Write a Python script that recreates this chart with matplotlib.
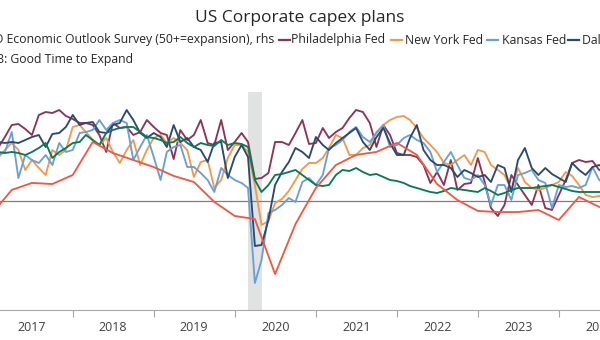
import numpy as np
import pandas as pd
import matplotlib
matplotlib.use('Agg')
import matplotlib.pyplot as plt
import matplotlib.dates as mdates
from matplotlib.lines import Line2D
from matplotlib.ticker import NullFormatter

plt.rcParams['font.family'] = ['Open Sans', 'DejaVu Sans']

# monthly capex-plans indexes, Jan 2017 onwards
philly = [27, 32, 38, 38.5, 36, 33, 43, 44.5, 44, 45.5,
          42.5, 41, 39, 39, 38, 33, 24.5, 39, 36.5, 37,
          33, 34.5, 40.5, 37, 34, 33, 21, 35.5, 30.5, 33,
          40.5, 29, 28, 40.5, 25.5, 29.5, 34, 29.5, 11, 11.5,
          14, 29.5, 29.5, 28, 34, 40.5, 28.5, 29, 36.5, 31.5,
          34.5, 36.5, 41.5, 45.5, 44.5, 39, 27, 38, 33, 24,
          23, 23, 22, 18, 9, 14.5, 8, 20.5, 5.5, 8.5,
          9, 21.5, 9.5, -3.5, -7.5, -2, 13, 8, 3, -2,
          8, -3.5, -4.5, 3, 10.5, 19, 20.5, 19.5, 20, 15.5,
          15]
new_york = [22, 25.5, 29, 25.5, 15.5, 20.5, 16.5, 13, 25.5, 23,
            25.5, 37, 38, 34.5, 30.5, 28, 31.5, 24.5, 19, 25.5,
            30.5, 18, 25.5, 31.5, 33, 29, 31.5, 29, 25.5, 12,
            19.5, 20.5, 6.5, 10.5, 21.5, 28, 28, 24.5, 8, -12,
            -10, -1, 1, 5, 10.5, 16, 19, 19, 21.5, 26.5,
            33, 31.5, 23, 23, 26.5, 28, 34.5, 38, 40.5, 42,
            42.5, 40.5, 36.5, 31.5, 28, 24.5, 19, 18, 20.5, 23,
            18, 25.5, 24.5, 18, 15.5, 13, 5.5, 16.5, 9.5, 6.5,
            5.5, 6.5, 8, 9.5, 14.5, 12.5, 8, 3, 2, 2.5,
            2.5]
kansas = [23, 24.5, 34.5, 11.5, 23, 20.5, 19, 23, 18, 29,
          24.5, 25.5, 34, 34.5, 35.5, 40.5, 35.5, 39, 40.5, 39,
          20.5, 27, 33, 22, 10.5, 24.5, 27, 28, 17, 17,
          14, 10.5, 4.5, 16.5, 13, 10.5, 9, 6.5, -41, -29.5,
          -6, -4.5, -2, 1.5, -0.5, 9.5, 11.5, 8, 13, 26.5,
          28, 30.5, 34.5, 37, 32, 29.5, 34, 38, 27, 28,
          31.5, 33, 30.5, 29, 24.5, 14.5, 19.5, 24.5, 18, 11.5,
          10.5, 13, 8, -2, 8, 8, 0.5, 13, 14, 15.5,
          10.5, 9, -3.5, 8, 7, 7.5, 6.5, 8, 17, 10.5,
          8]
dallas = [29.5, 29, 29.5, 29, 30.5, 32, 33, 27, 33.5, 34,
          37, 43, 38, 39, 39.5, 34.5, 34, 38, 39, 45.5,
          40.5, 34, 31.5, 34, 32, 27, 38, 29.5, 31.5, 27,
          25.5, 19.5, 29, 29.5, 11.5, 22, 28, 22, -22.5, -22,
          -9.5, 8, 14.5, 19.5, 26.5, 24.5, 21.5, 32, 28, 25.5,
          29, 31.5, 34, 36.5, 29.5, 25.5, 32, 36.5, 29, 23,
          23, 31.5, 38, 25.5, 20.5, 18, 18, 16.5, 12, 15.5,
          14, 12, 13, 9.5, 18, 16.5, 4.5, 20.5, 26.5, 16.5,
          13, 16.5, 13.5, 11.5, 9.5, 19, 15.5, 13, 17, 18,
          16]
nfib = [24.5, 24, 24.5, 24, 23, 24.5, 26.5, 29, 21.5, 24.5,
        26.5, 29, 29.5, 33, 30.5, 28, 34, 35.5, 36.5, 37,
        37, 34.5, 32, 31.5, 30.5, 29, 29.5, 32, 29, 27,
        29, 28, 27.5, 30.5, 28, 29, 28.5, 27, 10.5, 4.5,
        8, 13, 13.5, 14.5, 15.5, 13, 10.5, 8, 7.5, 8,
        13, 15.5, 15, 16.5, 14.5, 13, 13.5, 12, 10.5, 10,
        9, 7.5, 6.5, 5.5, 4.5, 4, 5, 6.5, 6, 5.5,
        5, 4.5, 6.5, 5, 3, 4, 5.5, 6.5, 6.5, 6.5,
        7, 7.5, 8, 7, 6, 5, 4.5, 4.5, 4.5, 4.5,
        4.5]
# quarterly CEO outlook index (rhs), Q4 2016 onwards
brt = [71.7, 87.1, 91.6, 90.9, 96.7, 117.9, 110.8, 106.3, 101.8, 96.1,
       92.2, 79.4, 70.4, 68.4, 33.1, 65.2, 88.4, 103.1, 109.6, 111.5,
       117.3, 109.6, 90.9, 80.6, 73.6, 72.9, 72.9, 74.2, 67.8, 82.6,
       76.2]

months = pd.date_range('2017-01-31', periods=len(philly), freq='ME')
quarters = pd.date_range('2016-12-31', periods=len(brt), freq='QE')

C_BRT = '#ef5a45'
C_PHL = '#8c3457'
C_NY = '#f19a4f'
C_KC = '#6a9fd8'
C_DAL = '#2c4a6e'
C_NFIB = '#0b7a55'

W, H = 600, 340
fig = plt.figure(figsize=(W / 100, H / 100), dpi=100)
ax = fig.add_axes([-8 / W, 30 / H, 614.3 / W, 218 / H])

ax.axvspan(pd.Timestamp('2020-03-01'), pd.Timestamp('2020-05-01'),
           color='#e1e2e2', lw=0, zorder=0)
ax.axhline(0, color='#7f7f7f', lw=0.9, zorder=1)

lw = 1.35
ax.plot(months, philly, color=C_PHL, lw=lw, zorder=3)
ax.plot(months, new_york, color=C_NY, lw=lw, zorder=3)
ax.plot(months, kansas, color=C_KC, lw=lw, zorder=3)
ax.plot(months, dallas, color=C_DAL, lw=lw, zorder=3)
ax.plot(months, nfib, color=C_NFIB, lw=lw, zorder=3)

ax.set_xlim(pd.Timestamp('2017-01-01'), pd.Timestamp('2024-08-01'))
ax.set_ylim(-54.5, 54.5)
ax.set_yticks([])
for s in ['top', 'left', 'right']:
    ax.spines[s].set_visible(False)
ax.spines['bottom'].set_color('#a6a6a6')
ax.xaxis.set_major_locator(mdates.YearLocator())
ax.xaxis.set_major_formatter(NullFormatter())
ax.xaxis.set_minor_locator(mdates.MonthLocator(bymonth=7))
ax.xaxis.set_minor_formatter(mdates.DateFormatter('%Y'))
ax.tick_params(which='major', length=5, color='#a6a6a6', direction='out')
ax.tick_params(which='minor', length=0, pad=8, labelsize=9, labelcolor='#404040')
ax.patch.set_visible(False)

ax2 = ax.twinx()
ax2.plot(quarters, brt, color=C_BRT, lw=lw, zorder=3)
ax2.set_ylim(10, 150)
ax2.set_yticks([])
for s in ax2.spines.values():
    s.set_visible(False)

fig.text(0.5, 1 - 18 / H, 'US Corporate capex plans', ha='center', va='center',
         fontsize=12.5, color='#262626')

row1 = 1 - 40 / H
row2 = 1 - 60 / H
fs = 8.85
fig.text(274 / W, row1, 'Business Roundtable CEO Economic Outlook Survey (50+=expansion), rhs',
         ha='right', va='center', fontsize=fs, color='#262626')
entries = [(279, 291, C_PHL, 'Philadelphia Fed'),
           (391, 405, C_NY, 'New York Fed'),
           (487, 502, C_KC, 'Kansas Fed'),
           (568, 582, C_DAL, 'Dallas Fed')]
for x0, xt, c, label in entries:
    fig.add_artist(Line2D([x0 / W, (x0 + 11) / W], [row1, row1], color=c, lw=1.6,
                          transform=fig.transFigure))
    fig.text(xt / W, row1, label, ha='left', va='center', fontsize=fs, color='#262626')
fig.text(133 / W, row2, 'NFIB: Good Time to Expand', ha='right', va='center',
         fontsize=fs, color='#262626')

fig.savefig('out.png', dpi=100)
